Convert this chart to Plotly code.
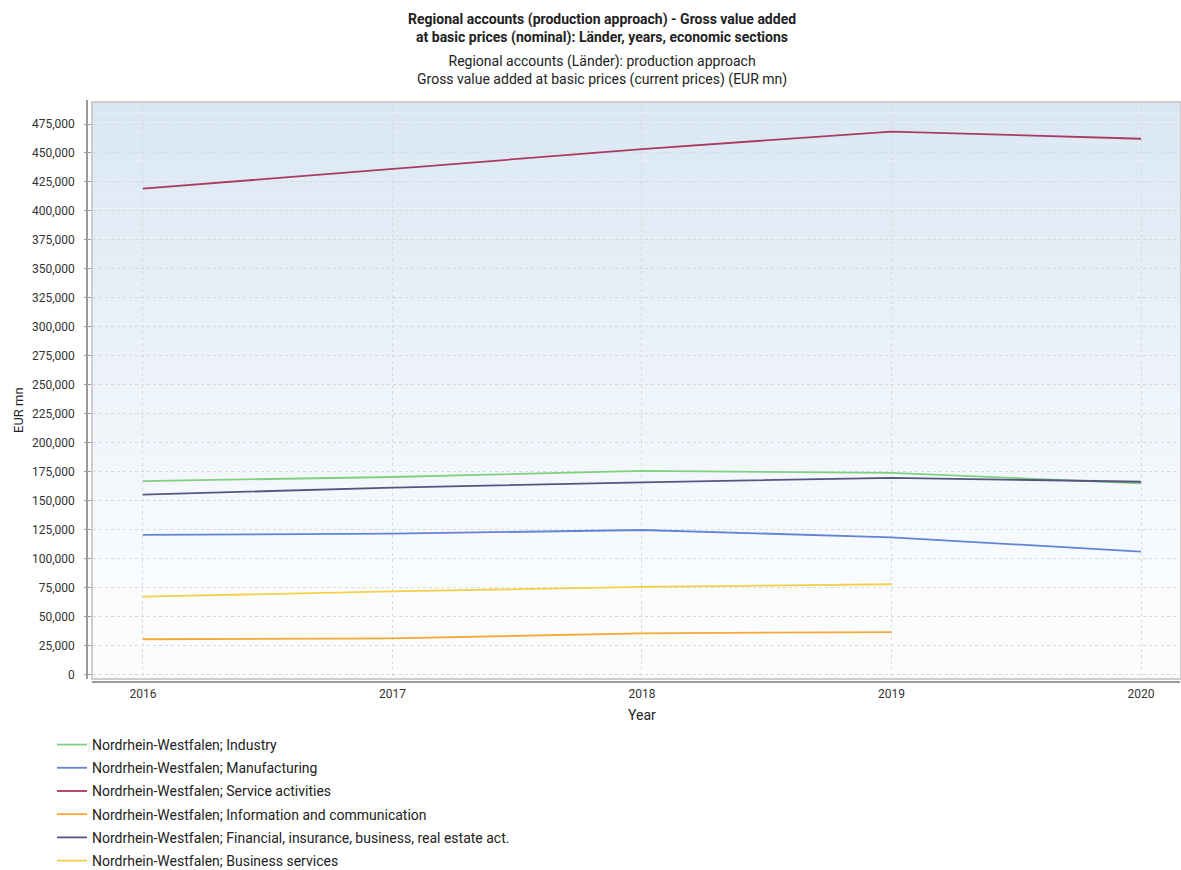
import plotly.graph_objects as go

years = [2016, 2017, 2018, 2019, 2020]
industry = [167200, 170700, 175900, 174200, 165200]
manufacturing = [120700, 121800, 125000, 118700, 106300]
services = [419200, 436200, 453400, 468500, 462300]
info_comm = [30800, 31600, 35900, 37000, None]
financial = [155400, 161600, 166000, 170000, 166600]
business = [67500, 72100, 75900, 78200, None]

series_names = [
    "Nordrhein-Westfalen; Industry",
    "Nordrhein-Westfalen; Manufacturing",
    "Nordrhein-Westfalen; Service activities",
    "Nordrhein-Westfalen; Information and communication",
    "Nordrhein-Westfalen; Financial, insurance, business, real estate act.",
    "Nordrhein-Westfalen; Business services",
]
series_values = [industry, manufacturing, services, info_comm, financial, business]
colors = ["#80d080", "#6283d8", "#ab3a63", "#f7a835", "#55557f", "#f5cf4a"]

y_ticks = list(range(0, 475001, 25000))

W, H = 1181, 870
ML, MR, MT, MB = 93, 1, 103, 192
PW = W - ML - MR
PH = H - MT - MB

fig = go.Figure()
for i, (name, vals, col) in enumerate(zip(series_names, series_values, colors)):
    fig.add_trace(go.Scatter(
        x=years, y=vals, mode="lines", name=name,
        line=dict(color=col, width=1.8),
        legendgroup=f"g{i}",
    ))

# background vertical gradient built from thin bands
shapes = []
n = 60
top = (218, 231, 243)
bot = (250, 252, 254)
for k in range(n):
    t = k / (n - 1)
    tt = min(1.0, t / 0.85)
    c = tuple(round(top[j] + (bot[j] - top[j]) * tt) for j in range(3))
    shapes.append(dict(
        type="rect", xref="paper", yref="paper",
        x0=0, x1=1, y0=1 - (k + 1) / n, y1=1 - k / n,
        fillcolor=f"rgb{c}", line=dict(width=0), layer="below",
    ))
# offset axis lines
shapes.append(dict(type="line", xref="paper", yref="paper",
                   x0=-6 / PW, x1=-6 / PW, y0=-1 / PH, y1=1 + 3 / PH,
                   line=dict(color="#9a9a9a", width=2)))
shapes.append(dict(type="line", xref="paper", yref="paper",
                   x0=-1 / PW, x1=1.0, y0=-4 / PH, y1=-4 / PH,
                   line=dict(color="#9a9a9a", width=2)))

font_family = "Roboto, 'Open Sans', sans-serif"
title_x = (602 - ML) / PW

annotations = [
    dict(text="<b>Regional accounts (production approach) - Gross value added<br>at basic prices (nominal): Länder, years, economic sections</b>",
         xref="paper", yref="paper", x=title_x, y=1 + (MT - 28.5) / PH,
         xanchor="center", yanchor="middle", showarrow=False,
         font=dict(size=14, color="#222", family=font_family)),
    dict(text="Regional accounts (Länder): production approach<br>Gross value added at basic prices (current prices) (EUR mn)",
         xref="paper", yref="paper", x=title_x, y=1 + (MT - 71) / PH,
         xanchor="center", yanchor="middle", showarrow=False,
         font=dict(size=14, color="#222", family=font_family)),
    dict(text="EUR mn", xref="paper", yref="paper",
         x=-(ML - 18) / PW, y=1 - (410 - MT) / PH, textangle=-90,
         xanchor="center", yanchor="middle", showarrow=False,
         font=dict(size=13, color="#222", family=font_family)),
    dict(text="Year", xref="paper", yref="paper",
         x=(642 - ML) / PW, y=-(715 - (MT + PH)) / PH,
         xanchor="center", yanchor="middle", showarrow=False,
         font=dict(size=14, color="#222", family=font_family)),
]

fig.update_layout(
    width=W, height=H,
    margin=dict(l=ML, r=MR, t=MT, b=MB, pad=0, autoexpand=False),
    paper_bgcolor="white",
    plot_bgcolor="white",
    font=dict(family=font_family, color="#333"),
    shapes=shapes,
    annotations=annotations,
    showlegend=True,
    legend=dict(
        orientation="v",
        x=(52 - ML) / PW, xanchor="left",
        y=-(729 - (MT + PH)) / PH, yanchor="top",
        font=dict(size=14, color="#222", family=font_family),
        itemwidth=30,
        tracegroupgap=2,
        bgcolor="rgba(0,0,0,0)",
    ),
    xaxis=dict(
        range=[2015.8, 2020.156],
        tickmode="array", tickvals=years, ticktext=[str(y) for y in years],
        showgrid=True, gridcolor="#d6d9de", griddash="3px,3px", gridwidth=1,
        showline=True, mirror=True, linecolor="#cdcdcd", linewidth=1.5,
        ticks="", ticklabelstandoff=4,
        tickfont=dict(size=12, color="#333", family=font_family),
        zeroline=False,
    ),
    yaxis=dict(
        range=[-2600, 493100],
        tickmode="array", tickvals=y_ticks,
        ticktext=[f"{v:,}" for v in y_ticks],
        showgrid=True, gridcolor="#d6d9de", griddash="3px,3px", gridwidth=1,
        showline=True, mirror=True, linecolor="#cdcdcd", linewidth=1.5,
        ticks="outside", ticklen=7, tickcolor="#9a9a9a", tickwidth=1,
        ticklabelstandoff=7,
        tickfont=dict(size=12, color="#333", family=font_family),
        zeroline=False,
    ),
)

fig.write_html("out.html", config={"displayModeBar": False},
               post_script="document.body.style.margin='0';")
